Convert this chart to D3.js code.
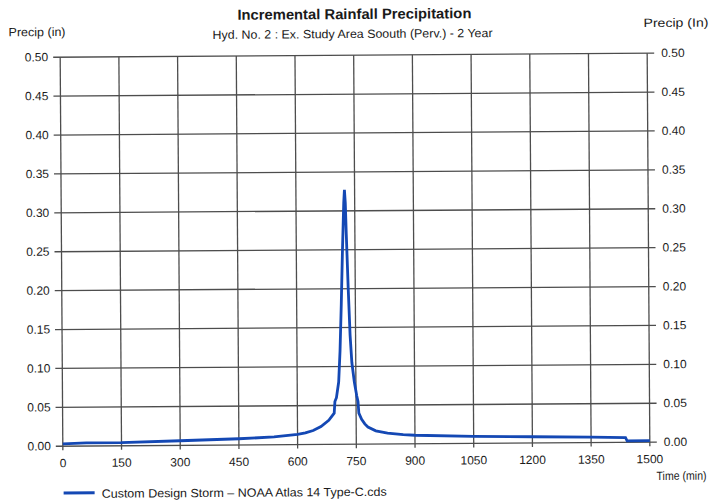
<!DOCTYPE html>
<html><head><meta charset="utf-8">
<script src="https://cdn.jsdelivr.net/npm/d3@7"></script>
<style>html,body{margin:0;padding:0;background:#fff;}svg{display:block;}</style>
</head><body>
<script>
const times = [0,60,150,300,450,540,600,620,640,660,680,694,696,700,706,710,714,718,722,724,726,728,732,736,740,746,752,755,757,764,772,780,800,830,870,900,1050,1200,1350,1438,1442,1500];
const precip = [0.003,0.004,0.004,0.006,0.008,0.010,0.013,0.015,0.018,0.023,0.031,0.040,0.055,0.060,0.080,0.12,0.18,0.25,0.31,0.327,0.31,0.27,0.20,0.14,0.105,0.08,0.062,0.055,0.040,0.032,0.026,0.022,0.017,0.014,0.012,0.011,0.009,0.008,0.007,0.006,0.002,0.002];
const xTicks = [0,150,300,450,600,750,900,1050,1200,1350,1500];
const yTicks = [0,0.05,0.10,0.15,0.20,0.25,0.30,0.35,0.40,0.45,0.50];
const title = "Incremental Rainfall Precipitation";
const subtitle = "Hyd. No. 2 : Ex. Study Area Soouth (Perv.) - 2 Year";
const yLabelLeft = "Precip (in)";
const yLabelRight = "Precip (In)";
const xLabel = "Time (min)";
const legendLabel = "Custom Design Storm \u2013 NOAA Atlas 14 Type-C.cds";

const W = 715, H = 501;
const x0 = 61.5, x1 = 648.5, yTop = 55.2, yBot = 444.2;
const svg = d3.select("body").append("svg").attr("width", W).attr("height", H);
const g = svg.append("g").attr("transform", "rotate(-0.39,355,250)")
  .style("font-family", "'Liberation Sans', Arial, sans-serif").attr("fill", "#1a1a1a");

const x = d3.scaleLinear().domain([0,1500]).range([x0,x1]);
const y = d3.scaleLinear().domain([0,0.5]).range([yBot,yTop]);
const gridCol = "#4d4d4d";

// horizontal grid
g.append("g").selectAll("line").data(yTicks).join("line")
  .attr("x1", x0-7).attr("x2", x1+7).attr("y1", d=>y(d)).attr("y2", d=>y(d))
  .attr("stroke", gridCol).attr("stroke-width", 1.3);
// vertical grid
g.append("g").selectAll("line").data(xTicks).join("line")
  .attr("x1", d=>x(d)).attr("x2", d=>x(d)).attr("y1", yTop).attr("y2", yBot+4)
  .attr("stroke", gridCol).attr("stroke-width", 1.3);

// axis labels
const fmt = d3.format(".2f");
g.append("g").selectAll("text").data(yTicks).join("text")
  .attr("x", x0-12).attr("y", d=>y(d)+4).attr("text-anchor","end")
  .attr("font-size", 12).text(d=>fmt(d));
g.append("g").selectAll("text").data(yTicks).join("text")
  .attr("x", x1+14).attr("y", d=>y(d)+4).attr("text-anchor","start")
  .attr("font-size", 12).text(d=>fmt(d));
g.append("g").selectAll("text").data(xTicks).join("text")
  .attr("x", d=>x(d)).attr("y", yBot+21).attr("text-anchor","middle")
  .attr("font-size", 12).text(d=>d);

// line
const line = d3.line().x((d,i)=>x(times[i])).y(d=>y(d));
g.append("path").datum(precip).attr("d", line).attr("fill","none")
  .attr("stroke", "#1448b4").attr("stroke-width", 2.8)
  .attr("stroke-linejoin","miter").attr("stroke-miterlimit", 4);

// titles
g.append("text").attr("x", 356).attr("y", 19).attr("text-anchor","middle")
  .attr("font-size", 14.5).attr("font-weight","bold").attr("textLength", 234)
  .attr("lengthAdjust","spacingAndGlyphs").text(title);
g.append("text").attr("x", 354).attr("y", 38).attr("text-anchor","middle")
  .attr("font-size", 12).attr("textLength", 280)
  .attr("lengthAdjust","spacingAndGlyphs").text(subtitle);
g.append("text").attr("x", 10).attr("y", 34).attr("font-size", 12)
  .attr("textLength", 57).attr("lengthAdjust","spacingAndGlyphs").text(yLabelLeft);
g.append("text").attr("x", 645).attr("y", 29).attr("font-size", 12)
  .attr("textLength", 65).attr("lengthAdjust","spacingAndGlyphs").text(yLabelRight);
g.append("text").attr("x", 655).attr("y", 482).attr("font-size", 12)
  .attr("textLength", 50).attr("lengthAdjust","spacingAndGlyphs").text(xLabel);

// legend
g.append("line").attr("x1", 62).attr("x2", 93).attr("y1", 491).attr("y2", 491)
  .attr("stroke", "#1448b4").attr("stroke-width", 3);
g.append("text").attr("x", 100).attr("y", 496).attr("font-size", 12)
  .attr("textLength", 285).attr("lengthAdjust","spacingAndGlyphs").text(legendLabel);
</script>
</body></html>
